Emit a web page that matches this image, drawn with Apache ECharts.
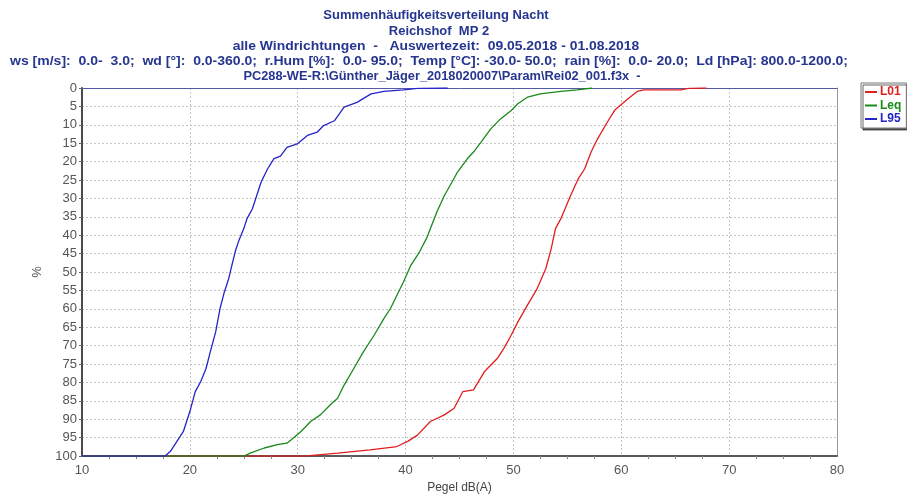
<!DOCTYPE html>
<html>
<head>
<meta charset="utf-8">
<script src="https://cdn.jsdelivr.net/npm/echarts@6/dist/echarts.min.js"></script>
<style>html,body{margin:0;padding:0;background:#fff}#c{width:907px;height:499px}</style>
</head>
<body>
<div id="c"></div>
<script>
// ---- data ----
var titleLines = [
  'Summenhäufigkeitsverteilung Nacht',
  'Reichshof  MP 2',
  'alle Windrichtungen  -   Auswertezeit:  09.05.2018 - 01.08.2018',
  'ws [m/s]:  0.0-  3.0;  wd [°]:  0.0-360.0;  r.Hum [%]:  0.0- 95.0;  Temp [°C]: -30.0- 50.0;  rain [%]:  0.0- 20.0;  Ld [hPa]: 800.0-1200.0;',
  'PC288-WE-R:\\Günther_Jäger_2018020007\\Param\\Rei02_001.f3x  -'
];
var seriesNames = ['L01', 'Leq', 'L95'];
var xTicks = [10, 20, 30, 40, 50, 60, 70, 80];
var yTicks = [0, 5, 10, 15, 20, 25, 30, 35, 40, 45, 50, 55, 60, 65, 70, 75, 80, 85, 90, 95, 100];

var l01Level = [10, 30.6, 33.7, 36.7, 39.2, 40.2, 41.1, 42.3, 43.6, 44.5, 45.3, 46.3, 47.3, 48.5, 49.1, 49.8, 50.4, 51.3, 52.2, 53.0, 53.5, 53.9, 54.4, 55.3, 56.0, 56.6, 57.2, 57.8, 58.7, 59.4, 60.6, 61.5, 62.1, 65.5, 66.2, 67.9];
var l01Pct   = [100, 100, 99.2, 98.3, 97.4, 96.0, 94.3, 90.6, 88.8, 87.0, 82.5, 82.0, 77.1, 73.5, 70.8, 67.1, 63.6, 59.0, 54.5, 49.1, 43.7, 38.2, 35.5, 29.2, 24.7, 22.0, 17.4, 13.8, 9.3, 6.0, 3.0, 0.9, 0.5, 0.5, 0.1, 0];

var leqLevel = [10, 25.0, 25.6, 26.9, 28.1, 29.0, 29.6, 30.3, 31.2, 32.1, 33.0, 33.7, 34.3, 35.2, 36.1, 37.1, 38.0, 38.6, 39.2, 39.8, 40.5, 41.3, 42.0, 42.9, 43.6, 44.3, 44.8, 45.7, 46.3, 47.0, 47.9, 48.8, 49.8, 50.4, 51.3, 52.5, 54.4, 55.9, 57.3];
var leqPct   = [100, 100, 99.2, 97.8, 96.9, 96.5, 95.1, 93.3, 90.6, 88.8, 86.1, 84.3, 80.7, 76.2, 71.6, 67.1, 62.6, 59.9, 56.3, 52.7, 48.1, 44.5, 40.5, 33.7, 29.2, 25.6, 22.9, 19.3, 17.4, 14.7, 11.1, 8.4, 6.1, 4.3, 2.5, 1.6, 0.9, 0.5, 0];

var l95Level = [10, 17.7, 18.2, 18.8, 19.4, 20.0, 20.5, 21.0, 21.5, 21.9, 22.4, 22.8, 23.2, 23.6, 23.9, 24.2, 24.5, 25.0, 25.3, 25.8, 26.2, 26.6, 27.2, 27.8, 28.4, 29.0, 29.95, 30.9, 31.8, 32.4, 33.4, 34.3, 35.5, 36.8, 38.0, 39.8, 41.1, 43.9];
var l95Pct   = [100, 100, 98.7, 96, 93.3, 87.9, 82.5, 79.8, 76.2, 71.6, 66.2, 59.9, 55.4, 51.8, 48.1, 44.5, 41.8, 38.2, 35.5, 32.8, 29.2, 25.6, 22.0, 19.2, 18.5, 16.1, 15.2, 12.9, 12.0, 10.2, 8.9, 5.2, 3.9, 1.6, 0.9, 0.5, 0.1, 0];

// ---- build ----
function pairs(xs, ys) { return xs.map(function (x, i) { return [x, ys[i]]; }); }
var colors = { L01: '#e01e1e', Leq: '#1a8a1a', L95: '#2424c8' };
var TITLE_COLOR = '#26358f';
var FAM = 'Arial, "Liberation Sans", sans-serif';

var titleLayout = [
  { x: 436, y: 15, sx: 1.0 },
  { x: 439, y: 31, sx: 1.0 },
  { x: 436, y: 46, sx: 1.07 },
  { x: 429, y: 61, sx: 1.078 },
  { x: 442, y: 76, sx: 0.985 }
];
var graphics = titleLines.map(function (t, i) {
  var L = titleLayout[i];
  return { type: 'text', x: L.x, y: L.y, scaleX: L.sx,
    style: { text: t, fill: TITLE_COLOR, font: 'bold 13px ' + FAM, textAlign: 'center', textVerticalAlign: 'middle' } };
});

var chart = echarts.init(document.getElementById('c'), null, { renderer: 'canvas' });
chart.setOption({
  animation: false,
  backgroundColor: '#ffffff',
  graphic: graphics,
  grid: { left: 82, right: 70, top: 88, bottom: 41, containLabel: false },
  legend: {
    orient: 'vertical', left: 861, top: 83,
    padding: [3, 5, 3, 4], itemGap: 1.5, itemWidth: 12, itemHeight: 2, icon: 'rect',
    backgroundColor: '#fff', borderColor: '#777', borderWidth: 1,
    shadowColor: 'rgba(0,0,0,0.6)', shadowBlur: 0, shadowOffsetX: 2, shadowOffsetY: 2,
    data: seriesNames.map(function (n) {
      return { name: n, textStyle: { color: colors[n], fontSize: 12, fontWeight: 'bold', fontFamily: FAM } };
    }),
    textStyle: { padding: [0, 0, 0, -2] }
  },
  xAxis: [{
    type: 'value', min: xTicks[0], max: xTicks[xTicks.length - 1], interval: 10,
    name: 'Pegel dB(A)', nameLocation: 'middle', nameGap: 25,
    nameTextStyle: { color: '#444', fontSize: 12, fontFamily: FAM },
    axisLine: { show: true, onZero: false, lineStyle: { color: '#5a5a5a', width: 2 } },
    axisTick: { show: false },
    minorTick: { show: true, splitNumber: 4, length: 3, lineStyle: { color: '#888' } },
    axisLabel: { color: '#555', fontSize: 13, margin: 8, fontFamily: FAM },
    splitLine: { show: true, lineStyle: { color: '#c4c4c4', type: [2, 2], width: 1 } }
  }, {
    type: 'value', position: 'top', min: xTicks[0], max: xTicks[xTicks.length - 1],
    axisLine: { show: true, onZero: false, lineStyle: { color: '#5858a8', width: 1 } },
    axisTick: { show: false }, axisLabel: { show: false }, splitLine: { show: false }
  }],
  yAxis: [{
    type: 'value', inverse: true, min: yTicks[0], max: yTicks[yTicks.length - 1], interval: 5,
    name: '%', nameLocation: 'middle', nameGap: 34,
    nameTextStyle: { color: '#555', fontSize: 13, fontFamily: FAM },
    axisLine: { show: true, onZero: false, lineStyle: { color: '#4a4a4a', width: 2 } },
    axisTick: { show: true, length: 3, lineStyle: { color: '#666' } },
    axisLabel: { color: '#555', fontSize: 13, margin: 5, fontFamily: FAM },
    splitLine: { show: true, lineStyle: { color: '#c4c4c4', type: [2, 2], width: 1 } }
  }, {
    type: 'value', position: 'right', inverse: true, min: 0, max: 100,
    axisLine: { show: true, onZero: false, lineStyle: { color: '#999', width: 1 } },
    axisTick: { show: false }, axisLabel: { show: false }, splitLine: { show: false }
  }],
  series: [
    { name: 'L01', type: 'line', data: pairs(l01Level, l01Pct), showSymbol: false, symbol: 'none', z: 3,
      lineStyle: { color: colors.L01, width: 1.3 }, itemStyle: { color: colors.L01 } },
    { name: 'Leq', type: 'line', data: pairs(leqLevel, leqPct), showSymbol: false, symbol: 'none', z: 4,
      lineStyle: { color: colors.Leq, width: 1.3 }, itemStyle: { color: colors.Leq } },
    { name: 'L95', type: 'line', data: pairs(l95Level, l95Pct), showSymbol: false, symbol: 'none', z: 5,
      lineStyle: { color: colors.L95, width: 1.3 }, itemStyle: { color: colors.L95 } }
  ]
});
</script>
</body>
</html>
